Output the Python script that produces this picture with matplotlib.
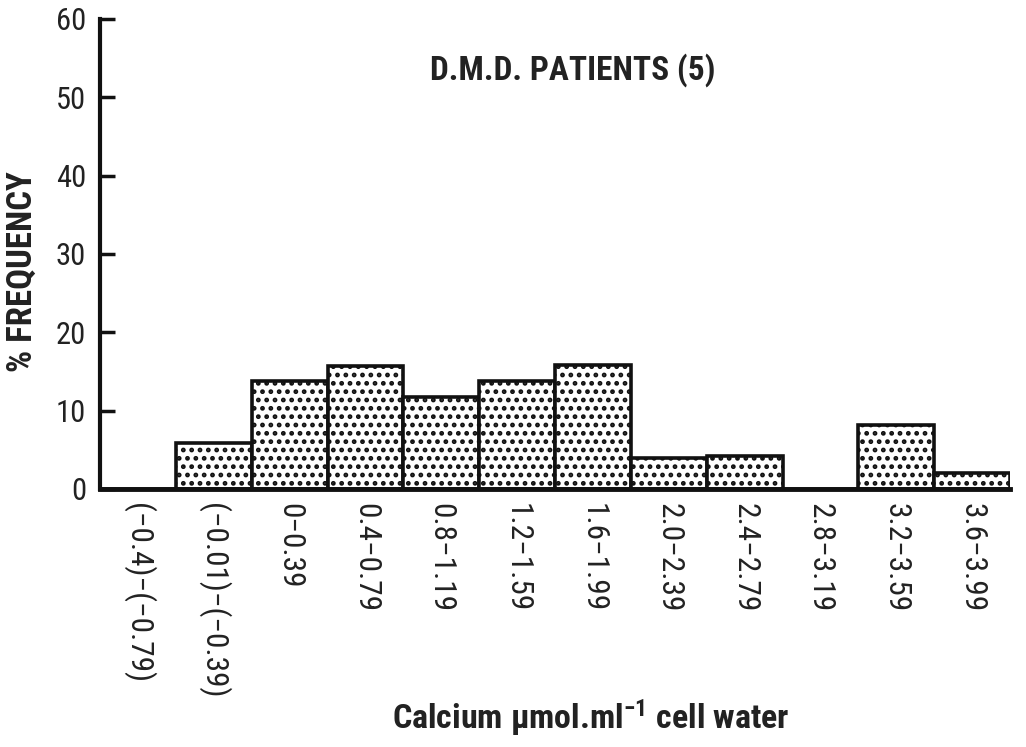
import matplotlib
matplotlib.use("Agg")
import matplotlib.pyplot as plt

categories = ['(−0.4)−(−0.79)', '(−0.01)−(−0.39)', '0−0.39', '0.4−0.79', '0.8−1.19',
              '1.2−1.59', '1.6−1.99', '2.0−2.39', '2.4−2.79', '2.8−3.19',
              '3.2−3.59', '3.6−3.99']
values = [0, 5.9, 13.8, 15.7, 11.8, 13.8, 15.8, 4.0, 4.2, 0, 8.2, 2.0]
yticks = [0, 10, 20, 30, 40, 50, 60]

title = 'D.M.D. PATIENTS (5)'
ylabel = '% FREQUENCY'
xlabel = r'Calcium µmol.ml$^{-1}$ cell water'

plt.rcParams['font.family'] = ['Roboto Condensed', 'DejaVu Sans']
plt.rcParams['font.stretch'] = 'condensed'
plt.rcParams['mathtext.default'] = 'regular'
plt.rcParams['hatch.linewidth'] = 2.2

TXT = '#222222'
fig = plt.figure(figsize=(10.26, 7.47), dpi=100)
ax = fig.add_axes([100/1026, (747-489)/747, 910/1026, 470/747])

x = list(range(len(categories)))
ax.bar(x, values, width=1.0, color='white', edgecolor='#111111',
       linewidth=2.6, hatch='..', zorder=2)

ax.set_xlim(-0.5, len(categories) - 0.5)
ax.set_ylim(0, 60)
ax.set_yticks(yticks)
ax.set_yticklabels([str(v) for v in yticks], fontsize=22, color=TXT)
ax.set_xticks(x)
ax.set_xticklabels(categories, rotation=270, fontsize=22.5, color=TXT,
                   ha='center', va='top')
ax.tick_params(axis='y', direction='in', length=11, width=2.5, pad=10,
               colors='#111111', labelcolor=TXT)
ax.tick_params(axis='x', length=0, pad=10, labelcolor=TXT)

for s in ['top', 'right']:
    ax.spines[s].set_visible(False)
ax.spines['left'].set_linewidth(3)
ax.spines['bottom'].set_linewidth(3.5)
ax.spines['left'].set_color('#111111')
ax.spines['bottom'].set_color('#111111')

fig.text(573/1026, 1 - 70/747, title, fontsize=24, fontweight='bold',
         color=TXT, ha='center', va='center')
fig.text(22/1026, 1 - 272/747, ylabel, fontsize=25, fontweight='bold',
         color=TXT, rotation=90, ha='center', va='center')
fig.text(591/1026, 1 - 718/747, xlabel, fontsize=24.5, fontweight='bold',
         color=TXT, ha='center', va='center')

fig.savefig('out.png', dpi=100, facecolor='white')
